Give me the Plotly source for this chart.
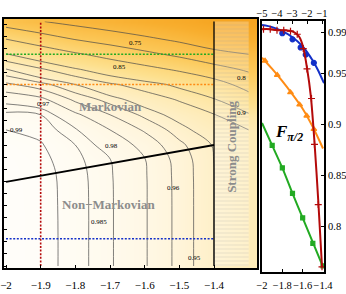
import plotly.graph_objects as go

# ---------------- data: main panel field ----------------
xs = [-2.0, -1.9, -1.8, -1.7, -1.6, -1.5, -1.4, -1.3]
ys = [-5.0, -4.5, -4.0, -3.5, -3.25, -3.0, -2.75, -2.5, -2.25, -2.0, -1.75, -1.5, -1.25, -0.96]
F_grid = [
    [0.9945, 0.9925, 0.9875, 0.9810, 0.9710, 0.9570, 0.9400, 0.9250],
    [0.9945, 0.9925, 0.9875, 0.9810, 0.9710, 0.9570, 0.9400, 0.9250],
    [0.9945, 0.9924, 0.9875, 0.9810, 0.9710, 0.9570, 0.9400, 0.9250],
    [0.9944, 0.9922, 0.9873, 0.9808, 0.9709, 0.9568, 0.9400, 0.9250],
    [0.9940, 0.9916, 0.9866, 0.9803, 0.9705, 0.9562, 0.9398, 0.9245],
    [0.9930, 0.9905, 0.9850, 0.9762, 0.9669, 0.9525, 0.9390, 0.9230],
    [0.9900, 0.9885, 0.9808, 0.9700, 0.9587, 0.9450, 0.9304, 0.9200],
    [0.9864, 0.9850, 0.9720, 0.9600, 0.9475, 0.9339, 0.9208, 0.9033],
    [0.9775, 0.9730, 0.9580, 0.9459, 0.9320, 0.9182, 0.9023, 0.8697],
    [0.9623, 0.9540, 0.9400, 0.9233, 0.9100, 0.8940, 0.8700, 0.8318],
    [0.9410, 0.9230, 0.9030, 0.8833, 0.8643, 0.8435, 0.8173, 0.7931],
    [0.9020, 0.8800, 0.8560, 0.8340, 0.8114, 0.7900, 0.7667, 0.7500],
    [0.8500, 0.8250, 0.7980, 0.7790, 0.7600, 0.7400, 0.7146, 0.7000],
    [0.7760, 0.7520, 0.7350, 0.7190, 0.7020, 0.6830, 0.6540, 0.6450],
]
contour_levels = [0.75, 0.8, 0.85, 0.9, 0.92, 0.94, 0.95, 0.96, 0.97, 0.98, 0.985, 0.99]
# contour label texts and their pixel positions in the picture
contour_label_text = ["0.75", "0.85", "0.8", "0.9", "0.97", "0.99", "0.98", "0.985", "0.96", "0.95"]
contour_label_px = [(135, 37), (119, 61), (248, 72), (248, 113), (35, 98), (8, 130),
                    (103, 146), (89, 228), (173, 188), (194, 264)]

main_xticks = [-2.0, -1.9, -1.8, -1.7, -1.6, -1.5, -1.4]
main_xtick_text = ["\u22122", "\u22121.9", "\u22121.8", "\u22121.7", "\u22121.6", "\u22121.5", "\u22121.4"]
main_yticks = [-5 + 0.2 * i for i in range(21)]

boundary_x = [-2.0, -1.4]
boundary_y = [-3.61, -3.0]
strong_x = -1.4
field_x_end = -1.3
field_y_bottom = -5.0
field_y_top = -0.96
cut_red_x = -1.9
cut_green_y = -1.5
cut_orange_y = -2.0
cut_blue_y = -4.55

# ---------------- data: right panel ----------------
blue_line_x = [-2.0, -1.9, -1.8, -1.7, -1.6, -1.5, -1.45, -1.39]
blue_line_y = [0.997, 0.995, 0.991, 0.985, 0.976, 0.962, 0.953, 0.940]
blue_pts_x = [-1.8, -1.7, -1.62, -1.57, -1.49]
blue_pts_y = [0.989, 0.983, 0.975, 0.968, 0.960]

red_line_x = [-5, -4.5, -4, -3.5, -3, -2.75, -2.5, -2.25, -2, -1.75, -1.5, -1.25, -1]
red_line_y = [0.993, 0.993, 0.992, 0.992, 0.991, 0.989, 0.985, 0.975, 0.955, 0.928, 0.882, 0.825, 0.760]
red_pts_x = [-4.9, -4.45, -4.0, -3.55, -3.1, -2.65, -2.25, -2.0, -1.7, -1.5, -1.25, -1.0]
red_pts_y = [0.993, 0.993, 0.992, 0.992, 0.991, 0.988, 0.974, 0.954, 0.925, 0.880, 0.821, 0.760]

orange_line_x = [-2.0, -1.9, -1.8, -1.7, -1.6, -1.5, -1.4]
orange_line_y = [0.965, 0.954, 0.942, 0.929, 0.915, 0.897, 0.876]
orange_pts_x = [-1.97, -1.85, -1.72, -1.63, -1.56, -1.49]
orange_pts_y = [0.962, 0.948, 0.931, 0.919, 0.908, 0.895]

green_line_x = [-2.0, -1.9, -1.8, -1.7, -1.6, -1.5, -1.4]
green_line_y = [0.901, 0.879, 0.857, 0.832, 0.808, 0.784, 0.760]
green_pts_x = [-1.9, -1.8, -1.7, -1.6, -1.5, -1.4]
green_pts_y = [0.879, 0.857, 0.832, 0.808, 0.783, 0.761]

r_xticks = [-2.0, -1.8, -1.6, -1.4]
r_xtick_text = ["\u22122", "\u22121.8", "\u22121.6", "\u22121.4"]
r_top_ticks = [-5, -4, -3, -2, -1]
r_top_text = ["\u22125", "\u22124", "\u22123", "\u22122", "\u22121"]
r_yticks = [0.8, 0.85, 0.9, 0.95, 0.99]
r_ytick_text = ["0.8", "0.85", "0.9", "0.95", "0.99"]

# ---------------- colours ----------------
RED = "#B40A0A"
GREEN = "#22AA22"
ORANGE = "#FF8C14"
BLUE = "#1430C8"
SERIF = "Liberation Serif"

W, H = 346, 294
def px_x(p):
    return p / W
def px_y(p):
    return 1 - p / H

fig = go.Figure()

cscale = [
    [0.0, "#F39A12"],
    [0.268, "#F8AE2E"],
    [0.512, "#FCC95A"],
    [0.707, "#FDE08E"],
    [0.829, "#FEEDBE"],
    [0.902, "#FFF5DC"],
    [0.963, "#FFFBF0"],
    [1.0, "#FFFFFF"],
]
fig.add_trace(go.Heatmap(x=xs, y=ys, z=F_grid, zsmooth="best", colorscale=cscale,
                         zmin=0.59, zmax=1.0, showscale=False, hoverinfo="skip"))

for lv in contour_levels:
    fig.add_trace(go.Contour(
        x=xs, y=ys, z=F_grid, autocontour=False, showscale=False, hoverinfo="skip",
        contours=dict(start=lv, end=lv, size=1, coloring="none", showlabels=False),
        line=dict(color="#4A4A4A", width=0.7, smoothing=1.0),
    ))

# strong coupling hatch
fig.add_trace(go.Scatter(
    x=[strong_x, field_x_end, field_x_end, strong_x, strong_x],
    y=[field_y_bottom, field_y_bottom, field_y_top, field_y_top, field_y_bottom],
    mode="lines", line=dict(width=0), fill="toself",
    fillcolor="rgba(255,255,255,0.25)",
    fillpattern=dict(shape="-", size=4, solidity=0.2, fgcolor="rgba(150,150,150,0.55)",
                     bgcolor="rgba(255,255,255,0.25)"),
    hoverinfo="skip", showlegend=False))

dash = "2px,1.6px"
for yc, col in [(cut_green_y, GREEN), (cut_orange_y, ORANGE), (cut_blue_y, BLUE)]:
    fig.add_trace(go.Scatter(x=[xs[0], strong_x], y=[yc, yc], mode="lines",
                             line=dict(color=col, width=1.6, dash=dash), hoverinfo="skip"))
fig.add_trace(go.Scatter(x=[cut_red_x, cut_red_x], y=[field_y_bottom, field_y_top], mode="lines",
                         line=dict(color=RED, width=1.6, dash=dash), hoverinfo="skip"))
fig.add_trace(go.Scatter(x=boundary_x, y=boundary_y, mode="lines",
                         line=dict(color="black", width=1.8), hoverinfo="skip"))
fig.add_trace(go.Scatter(x=[strong_x, strong_x], y=[field_y_bottom, field_y_top], mode="lines",
                         line=dict(color="black", width=1.3), hoverinfo="skip"))

# ---------------- right panel ----------------
def add_series(lx, ly, mx, my, col, sym, msize, xa="x2"):
    fig.add_trace(go.Scatter(x=lx, y=ly, mode="lines", xaxis=xa, yaxis="y2",
                             line=dict(color=col, width=2, shape="spline", smoothing=0.8),
                             hoverinfo="skip"))
    fig.add_trace(go.Scatter(x=mx, y=my, mode="markers", xaxis=xa, yaxis="y2",
                             marker=dict(color=col, symbol=sym, size=msize,
                                         line=dict(color=col, width=1.2)),
                             hoverinfo="skip"))

add_series(green_line_x, green_line_y, green_pts_x, green_pts_y, GREEN, "square", 4)
add_series(orange_line_x, orange_line_y, orange_pts_x, orange_pts_y, ORANGE, "triangle-up", 5)
add_series(blue_line_x, blue_line_y, blue_pts_x, blue_pts_y, BLUE, "circle", 5)
add_series(red_line_x, red_line_y, red_pts_x, red_pts_y, RED, "cross-thin", 5, xa="x3")

tickfont = dict(family=SERIF, size=11, color="black")
rfont = dict(family=SERIF, size=10.5, color="black")

annotations = [
    dict(x=-1.70, y=-2.37, xref="x", yref="y", text="<b>Markovian</b>", showarrow=False,
         font=dict(family=SERIF, size=13, color="#8C8C8C")),
    dict(x=-1.703, y=-3.99, xref="x", yref="y", text="<b>Non\u2212Markovian</b>", showarrow=False,
         font=dict(family=SERIF, size=13, color="#8C8C8C")),
    dict(x=-1.348, y=-3.03, xref="x", yref="y", text="<b>Strong Coupling</b>", showarrow=False,
         textangle=-90, font=dict(family=SERIF, size=13, color="#8C8C8C")),
    dict(x=px_x(305), y=px_y(133), xref="paper", yref="paper",
         text="<b><i>F</i></b><sub><b><i>\u03c0/2</i></b></sub>", showarrow=False,
         font=dict(family=SERIF, size=17, color="black")),
]
for t, (px, py) in zip(contour_label_text, contour_label_px):
    annotations.append(dict(x=px_x(px), y=px_y(py), xref="paper", yref="paper", text=t,
                            showarrow=False, font=dict(family=SERIF, size=7, color="black")))

fig.update_layout(
    width=W, height=H, margin=dict(l=0, r=0, t=0, b=0, autoexpand=False),
    paper_bgcolor="white", plot_bgcolor="white", showlegend=False,
    xaxis=dict(domain=[px_x(4), px_x(257)], range=[-2.0058, -1.276], anchor="y", automargin=False,
               tickvals=main_xticks, ticktext=main_xtick_text, ticks="inside", ticklen=3,
               tickcolor="black", showline=True, linecolor="black", linewidth=1.6, mirror=True,
               showgrid=False, zeroline=False, tickfont=tickfont, ticklabelstandoff=6,
               tickangle=0),
    yaxis=dict(domain=[px_y(268), px_y(19)], range=[-5.033, -0.917], anchor="x", automargin=False,
               tickvals=main_yticks, showticklabels=False, ticks="inside", ticklen=3,
               tickcolor="black", showline=True, linecolor="black", linewidth=1.6, mirror=True,
               showgrid=False, zeroline=False),
    xaxis2=dict(domain=[px_x(262), px_x(324)], range=[-2.0, -1.3902], anchor="y2", automargin=False,
                tickvals=r_xticks, ticktext=r_xtick_text, ticks="inside", ticklen=3,
                tickcolor="black", showline=True, linecolor="black", linewidth=1.8, mirror=True,
                showgrid=False, zeroline=False, tickfont=rfont, ticklabelstandoff=2,
                tickangle=0, ticklabeloverflow="allow"),
    xaxis3=dict(overlaying="x2", side="top", anchor="y2", range=[-5.0, -0.867], automargin=False,
                tickvals=r_top_ticks, ticktext=r_top_text, ticks="inside", ticklen=3,
                tickcolor="black", showline=False, showgrid=False, zeroline=False,
                tickfont=rfont, ticklabelstandoff=1, tickangle=0, ticklabeloverflow="allow"),
    yaxis2=dict(domain=[px_y(272), px_y(21)], range=[0.7549, 1.001], anchor="x2", side="right",
                automargin=False,
                tickvals=r_yticks, ticktext=r_ytick_text, ticks="inside", ticklen=3,
                tickcolor="black", showline=True, linecolor="black", linewidth=1.8, mirror=True,
                showgrid=False, zeroline=False, tickfont=rfont, ticklabelstandoff=0,
                ticklabeloverflow="allow"),
    annotations=annotations,
)

fig.write_html("out.html", config=dict(displayModeBar=False),
               post_script="document.body.style.margin='0';document.body.style.padding='0';")
